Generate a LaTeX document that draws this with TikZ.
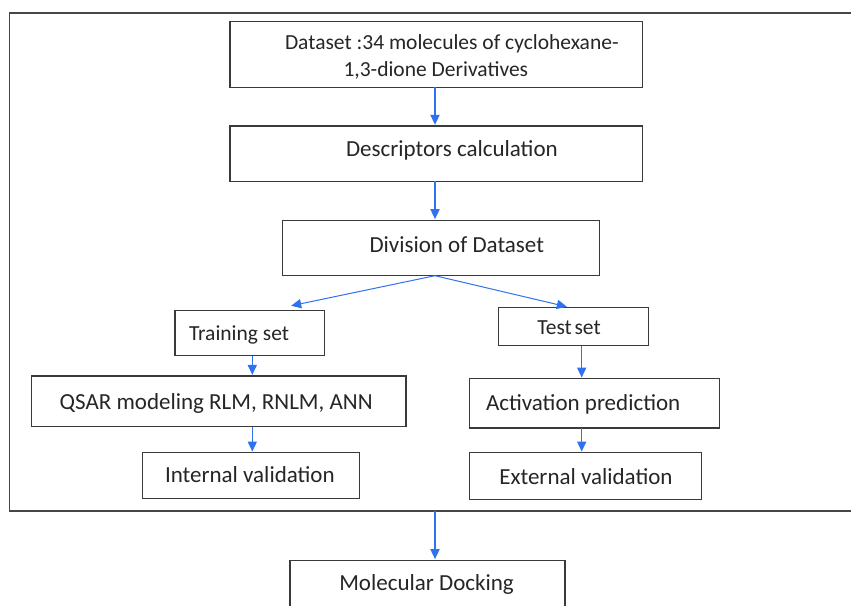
\documentclass[tikz,border=0pt]{standalone}
\usepackage{fontspec}
\setmainfont{Carlito}
\usetikzlibrary{arrows.meta,calc}
\definecolor{boxline}{RGB}{58,58,58}
\definecolor{frameline}{RGB}{70,70,70}
\definecolor{arrowblue}{RGB}{47,114,240}
\definecolor{txtc}{RGB}{38,38,38}
\begin{document}
\begin{tikzpicture}[x=0.5pt,y=-0.5pt,
  box/.style={draw=boxline,line width=0.65pt,rectangle,inner sep=0pt,outer sep=0pt},
  framebox/.style={draw=frameline,line width=0.8pt,rectangle,inner sep=0pt,outer sep=0pt},
  lbl/.style={anchor=base west,inner sep=0pt,outer sep=0pt,text=txtc,font=\fontsize{11.5pt}{13.5pt}\selectfont},
  lblsm/.style={lbl,font=\fontsize{10.75pt}{13.5pt}\selectfont},
  arr/.style={draw=arrowblue,line width=0.6pt,shorten >=0.6pt,-{Triangle[width=4.6pt,length=5pt]}}]
\useasboundingbox (0,0) rectangle (851,605);
\clip (0,0) rectangle (851,605);
\fill[white] (0,0) rectangle (851,605);
% outer frame (right side lies beyond the picture)
\node[framebox, minimum width=426.25pt, minimum height=249pt] (frame) at (435.75,262) {};
% boxes
\node[box, minimum width=206.35pt, minimum height=33pt]   (b1)    at (436.35,54.3) {};
\node[box, minimum width=206.35pt, minimum height=27.65pt] (b2)   at (436.35,153.65) {};
\node[box, minimum width=158.5pt, minimum height=27.7pt]  (b3)    at (440.8,248) {};
\node[box, minimum width=74.65pt, minimum height=22.5pt]  (train) at (249.65,333.2) {};
\node[box, minimum width=75pt, minimum height=19pt]       (test)  at (573.3,326.7) {};
\node[box, minimum width=187.25pt, minimum height=25.35pt] (qsar) at (218.75,401.35) {};
\node[box, minimum width=108.3pt, minimum height=22.8pt]  (intv)  at (251,475.5) {};
\node[box, minimum width=125pt, minimum height=24.65pt]   (act)   at (594.3,403.35) {};
\node[box, minimum width=116.2pt, minimum height=23.3pt]  (extv)  at (585.5,476) {};
\node[box, minimum width=137.5pt, minimum height=32.35pt] (mol)   at (427.5,592.65) {};
% labels
\node[lblsm] (t1a) at (285,49) {Dataset :34 molecules of cyclohexane-};
\node[lblsm] (t1b) at (343.5,76) {1,3-dione Derivatives};
\node[lbl] (t2) at (346,156.5) {Descriptors calculation};
\node[lbl] (t3) at (369.5,252) {Division of Dataset};
\node[lblsm] (t4) at (189,340.7) {Training set};
\node[lblsm] (t5) at (537.3,334.3) {Test\hspace{0.12em}set};
\node[lbl] (t6) at (59.7,409.3) {QSAR modeling RLM, RNLM, ANN};
\node[lbl] (t7) at (165,482.3) {Internal validation};
\node[lbl] (t8) at (486,410) {Activation prediction};
\node[lbl] (t9) at (499.3,484) {External validation};
\node[lbl] (t10) at (339.3,590) {Molecular Docking};
% connectors
\coordinate (ax) at (435,0);
\coordinate (lx) at (252.3,0);
\coordinate (rx) at (581.7,0);
\coordinate (trtip) at ($(train.north)+(40.35,-4.7)$);
\coordinate (tetip) at ($(test.north)+(-5.3,-0.7)$);
\draw[arr] (b1.south -| ax) -- (b2.north -| ax);
\draw[arr] (b2.south -| ax) -- (b3.north -| ax);
\draw[arr,line width=0.5pt] (b3.south -| ax) -- (trtip);
\draw[arr,line width=0.5pt] (b3.south -| ax) -- (tetip);
\draw[arr] (train.south -| lx) -- (qsar.north -| lx);
\draw[arr] (qsar.south -| lx) -- (intv.north -| lx);
\draw[arr] (test.south -| rx) -- (act.north -| rx);
\draw[arr] (act.south -| rx) -- (extv.north -| rx);
\draw[arr] (frame.south -| ax) -- (mol.north -| ax);
\end{tikzpicture}
\end{document}
